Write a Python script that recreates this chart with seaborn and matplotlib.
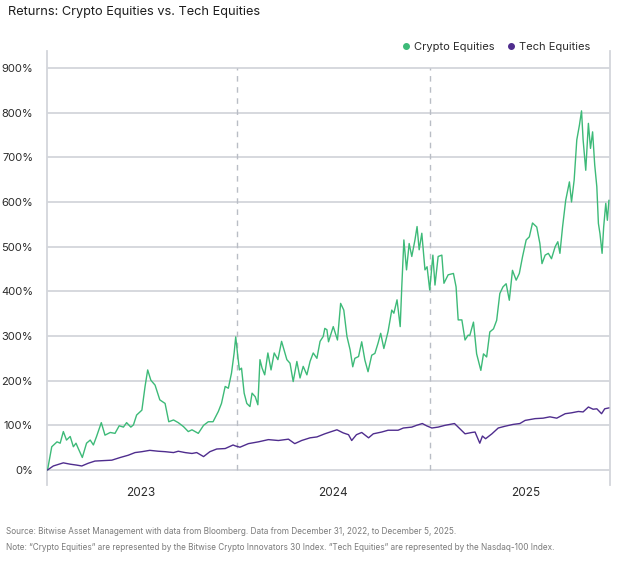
import matplotlib

matplotlib.use("Agg")

import pandas as pd
import matplotlib.pyplot as plt
import seaborn as sns
from matplotlib.lines import Line2D


START_DATE = pd.Timestamp("2022-12-31")

# days after START_DATE, cumulative return in %
CRYPTO_DAYS = [
    6, 14, 24, 30, 36, 42, 49, 55, 60, 64, 72, 80, 87, 93, 99, 108, 115, 125,
    134, 142, 150, 156, 164, 169, 175, 185, 191, 196, 202, 210, 219, 229, 236,
    245, 254, 264, 273, 280, 292, 302, 311, 320, 330, 336, 343, 349, 355, 360,
    363, 367, 370, 374, 379, 384, 390, 394, 400, 405, 409, 413, 418, 424, 430,
    436, 443, 450, 460, 466, 472, 479, 485, 491, 498, 504, 510, 517, 523, 529,
    532, 536, 539, 548, 556, 562, 568, 574, 580, 585, 589, 596, 602, 608, 614,
    621, 627, 633, 638, 644, 652, 659, 663, 669, 675, 678, 682, 687, 692, 697,
    703, 707, 711, 716, 722, 726, 731, 737, 741, 747, 754, 758, 766, 776, 781,
    785, 792, 798, 804, 807, 814, 820, 828, 833, 839, 845, 852, 858, 864, 870,
    876, 882, 888, 895, 901, 907, 914, 920, 926, 934, 940, 944, 950, 956, 962,
    969, 974, 978, 983, 989, 996, 1000, 1005, 1010, 1015, 1019, 1022, 1027,
    1032, 1036, 1040, 1044, 1048, 1051, 1054, 1058, 1061, 1065, 1068, 1071,
]
CRYPTO_RETURNS = [
    0, 52, 63, 60, 86, 67, 75, 52, 60, 49, 28, 60, 67, 56, 75, 106, 78, 84,
    82, 99, 96, 106, 96, 101, 123, 134, 187, 224, 201, 190, 157, 149, 108,
    112, 106, 97, 86, 90, 82, 100, 108, 108, 131, 149, 187, 183, 217, 262,
    298, 254, 224, 228, 172, 149, 142, 172, 164, 146, 247, 228, 213, 262, 224,
    262, 247, 288, 247, 239, 198, 243, 206, 232, 213, 243, 262, 250, 288, 299,
    317, 314, 287, 321, 291, 373, 358, 299, 269, 231, 250, 254, 287, 246, 220,
    257, 261, 284, 306, 272, 310, 358, 351, 381, 321, 410, 515, 448, 507, 478,
    515, 545, 493, 530, 448, 455, 403, 481, 414, 478, 481, 418, 437, 440, 410,
    336, 336, 291, 302, 301, 331, 260, 223, 260, 253, 309, 316, 335, 395, 410,
    417, 380, 447, 425, 440, 477, 515, 522, 553, 544, 507, 462, 481, 485, 473,
    500, 511, 485, 544, 604, 645, 600, 649, 739, 772, 804, 739, 671,
    776, 720, 757, 683, 634, 552, 529, 485, 544, 597, 559, 604,
]

TECH_DAYS = [
    6, 17, 36, 49, 61, 71, 83, 96, 112, 128, 144, 159, 172, 185, 200, 216, 229,
    245, 254, 267, 280, 289, 302, 314, 327, 343, 358, 362, 371, 381, 387, 406,
    425, 444, 463, 475, 488, 504, 517, 532, 542, 555, 567, 577, 583, 592, 602,
    615, 624, 640, 652, 671, 681, 697, 706, 717, 725, 735, 747, 760, 778, 785,
    798, 811, 817, 826, 831, 837, 849, 861, 874, 889, 902, 912, 931, 946, 959,
    972, 988, 1000, 1013, 1022, 1032, 1041, 1048, 1057, 1063, 1071,
]
TECH_RETURNS = [
    0, 9, 16, 13, 11, 9, 15, 20, 21, 22, 28, 33, 39, 41, 44, 42, 41,
    39, 42, 39, 37, 39, 30, 41, 47, 48, 56, 54, 51, 56, 59, 63,
    68, 66, 69, 59, 66, 72, 74, 81, 85, 90, 83, 79, 66, 79, 84,
    72, 81, 85, 89, 89, 94, 96, 100, 104, 99, 94, 96, 100, 104, 96,
    81, 84, 85, 60, 76, 70, 81, 94, 98, 102, 104, 111, 115, 116, 119,
    116, 126, 128, 131, 130, 141, 136, 137, 126, 137, 139,
]

Y_TICKS = [0, 100, 200, 300, 400, 500, 600, 700, 800, 900]
YEAR_BREAKS = ["2024-01-01", "2025-01-01"]
YEAR_TICKS = ["2023-07-02", "2024-07-01", "2025-07-01"]
YEAR_LABELS = ["2023", "2024", "2025"]

TITLE = "Returns: Crypto Equities vs. Tech Equities"
SOURCE_TEXT = (
    "Source: Bitwise Asset Management with data from Bloomberg. "
    "Data from December 31, 2022, to December 5, 2025."
)
NOTE_TEXT = (
    "Note: \u201cCrypto Equities\u201d are represented by the Bitwise Crypto "
    "Innovators 30 Index. \u201cTech Equities\u201d are represented by the "
    "Nasdaq-100 Index."
)

CRYPTO_COLOR = "#3dba78"
TECH_COLOR = "#4f2d8e"
GRID_COLOR = "#d3d6db"
TEXT_COLOR = "#2b2b2b"


def to_dates(days):
    return START_DATE + pd.to_timedelta(days, unit="D")


def build_frame() -> pd.DataFrame:
    crypto = pd.DataFrame(
        {"date": to_dates(CRYPTO_DAYS), "ret": CRYPTO_RETURNS, "series": "Crypto Equities"}
    )
    tech = pd.DataFrame(
        {"date": to_dates(TECH_DAYS), "ret": TECH_RETURNS, "series": "Tech Equities"}
    )
    return pd.concat([crypto, tech], ignore_index=True)


def draw(df: pd.DataFrame) -> None:
    sns.set_theme(style="white")
    plt.rcParams["font.family"] = ["Inter", "DejaVu Sans"]

    fig = plt.figure(figsize=(6.35, 5.61), dpi=100)
    ax = fig.add_axes([47 / 635, 1 - 485 / 561, 563 / 635, 434 / 561])

    ax.hlines(Y_TICKS, START_DATE + pd.Timedelta(days=4), START_DATE + pd.Timedelta(days=1074),
              color=GRID_COLOR, lw=1.3, zorder=1)
    ax.vlines(pd.to_datetime(YEAR_BREAKS), 0, 900, color="#b9bdc5", lw=1,
              linestyles=(0, (4, 4)), zorder=1)

    sns.lineplot(
        data=df, x="date", y="ret", hue="series",
        palette={"Crypto Equities": CRYPTO_COLOR, "Tech Equities": TECH_COLOR},
        linewidth=1.0, legend=False, ax=ax, zorder=3,
    )

    ax.set_xlim(START_DATE + pd.Timedelta(days=5), START_DATE + pd.Timedelta(days=1073))
    ax.set_ylim(-33.6, 938)

    ax.set_yticks(Y_TICKS)
    ax.set_yticklabels([f"{v}%" for v in Y_TICKS])
    ax.set_xticks(pd.to_datetime(YEAR_TICKS))
    ax.set_xticklabels(YEAR_LABELS)
    ax.tick_params(axis="y", length=0, pad=10, labelsize=8, labelcolor=TEXT_COLOR)
    ax.tick_params(axis="x", length=0, pad=1.5, labelsize=8.5, labelcolor=TEXT_COLOR)
    ax.set_xlabel("")
    ax.set_ylabel("")
    ax.grid(False)

    for side in ["top", "bottom"]:
        ax.spines[side].set_visible(False)
    for side in ["left", "right"]:
        ax.spines[side].set_color(GRID_COLOR)
        ax.spines[side].set_linewidth(1.3)

    handles = [
        Line2D([], [], marker="o", ls="", color=CRYPTO_COLOR, markersize=4),
        Line2D([], [], marker="o", ls="", color=TECH_COLOR, markersize=4),
    ]
    fig.legend(
        handles, ["Crypto Equities", "Tech Equities"], loc="center right",
        bbox_to_anchor=(600 / 635, 1 - 47 / 561), ncol=2, frameon=False,
        fontsize=8, handletextpad=0.2, columnspacing=1.0, handlelength=1,
        labelcolor=TEXT_COLOR,
    )

    fig.text(8 / 635, 1 - 12 / 561, TITLE, fontsize=9.2, color="#1e1e1e", va="center")
    fig.text(6 / 635, 1 - 531 / 561, SOURCE_TEXT, fontsize=5.9, color="#7a7a7a", va="center")
    fig.text(6 / 635, 1 - 548 / 561, NOTE_TEXT, fontsize=5.9, color="#7a7a7a", va="center")

    fig.savefig("out.png", dpi=100, facecolor="white")
    plt.close(fig)


def main() -> None:
    df = build_frame()
    draw(df)


if __name__ == "__main__":
    main()
